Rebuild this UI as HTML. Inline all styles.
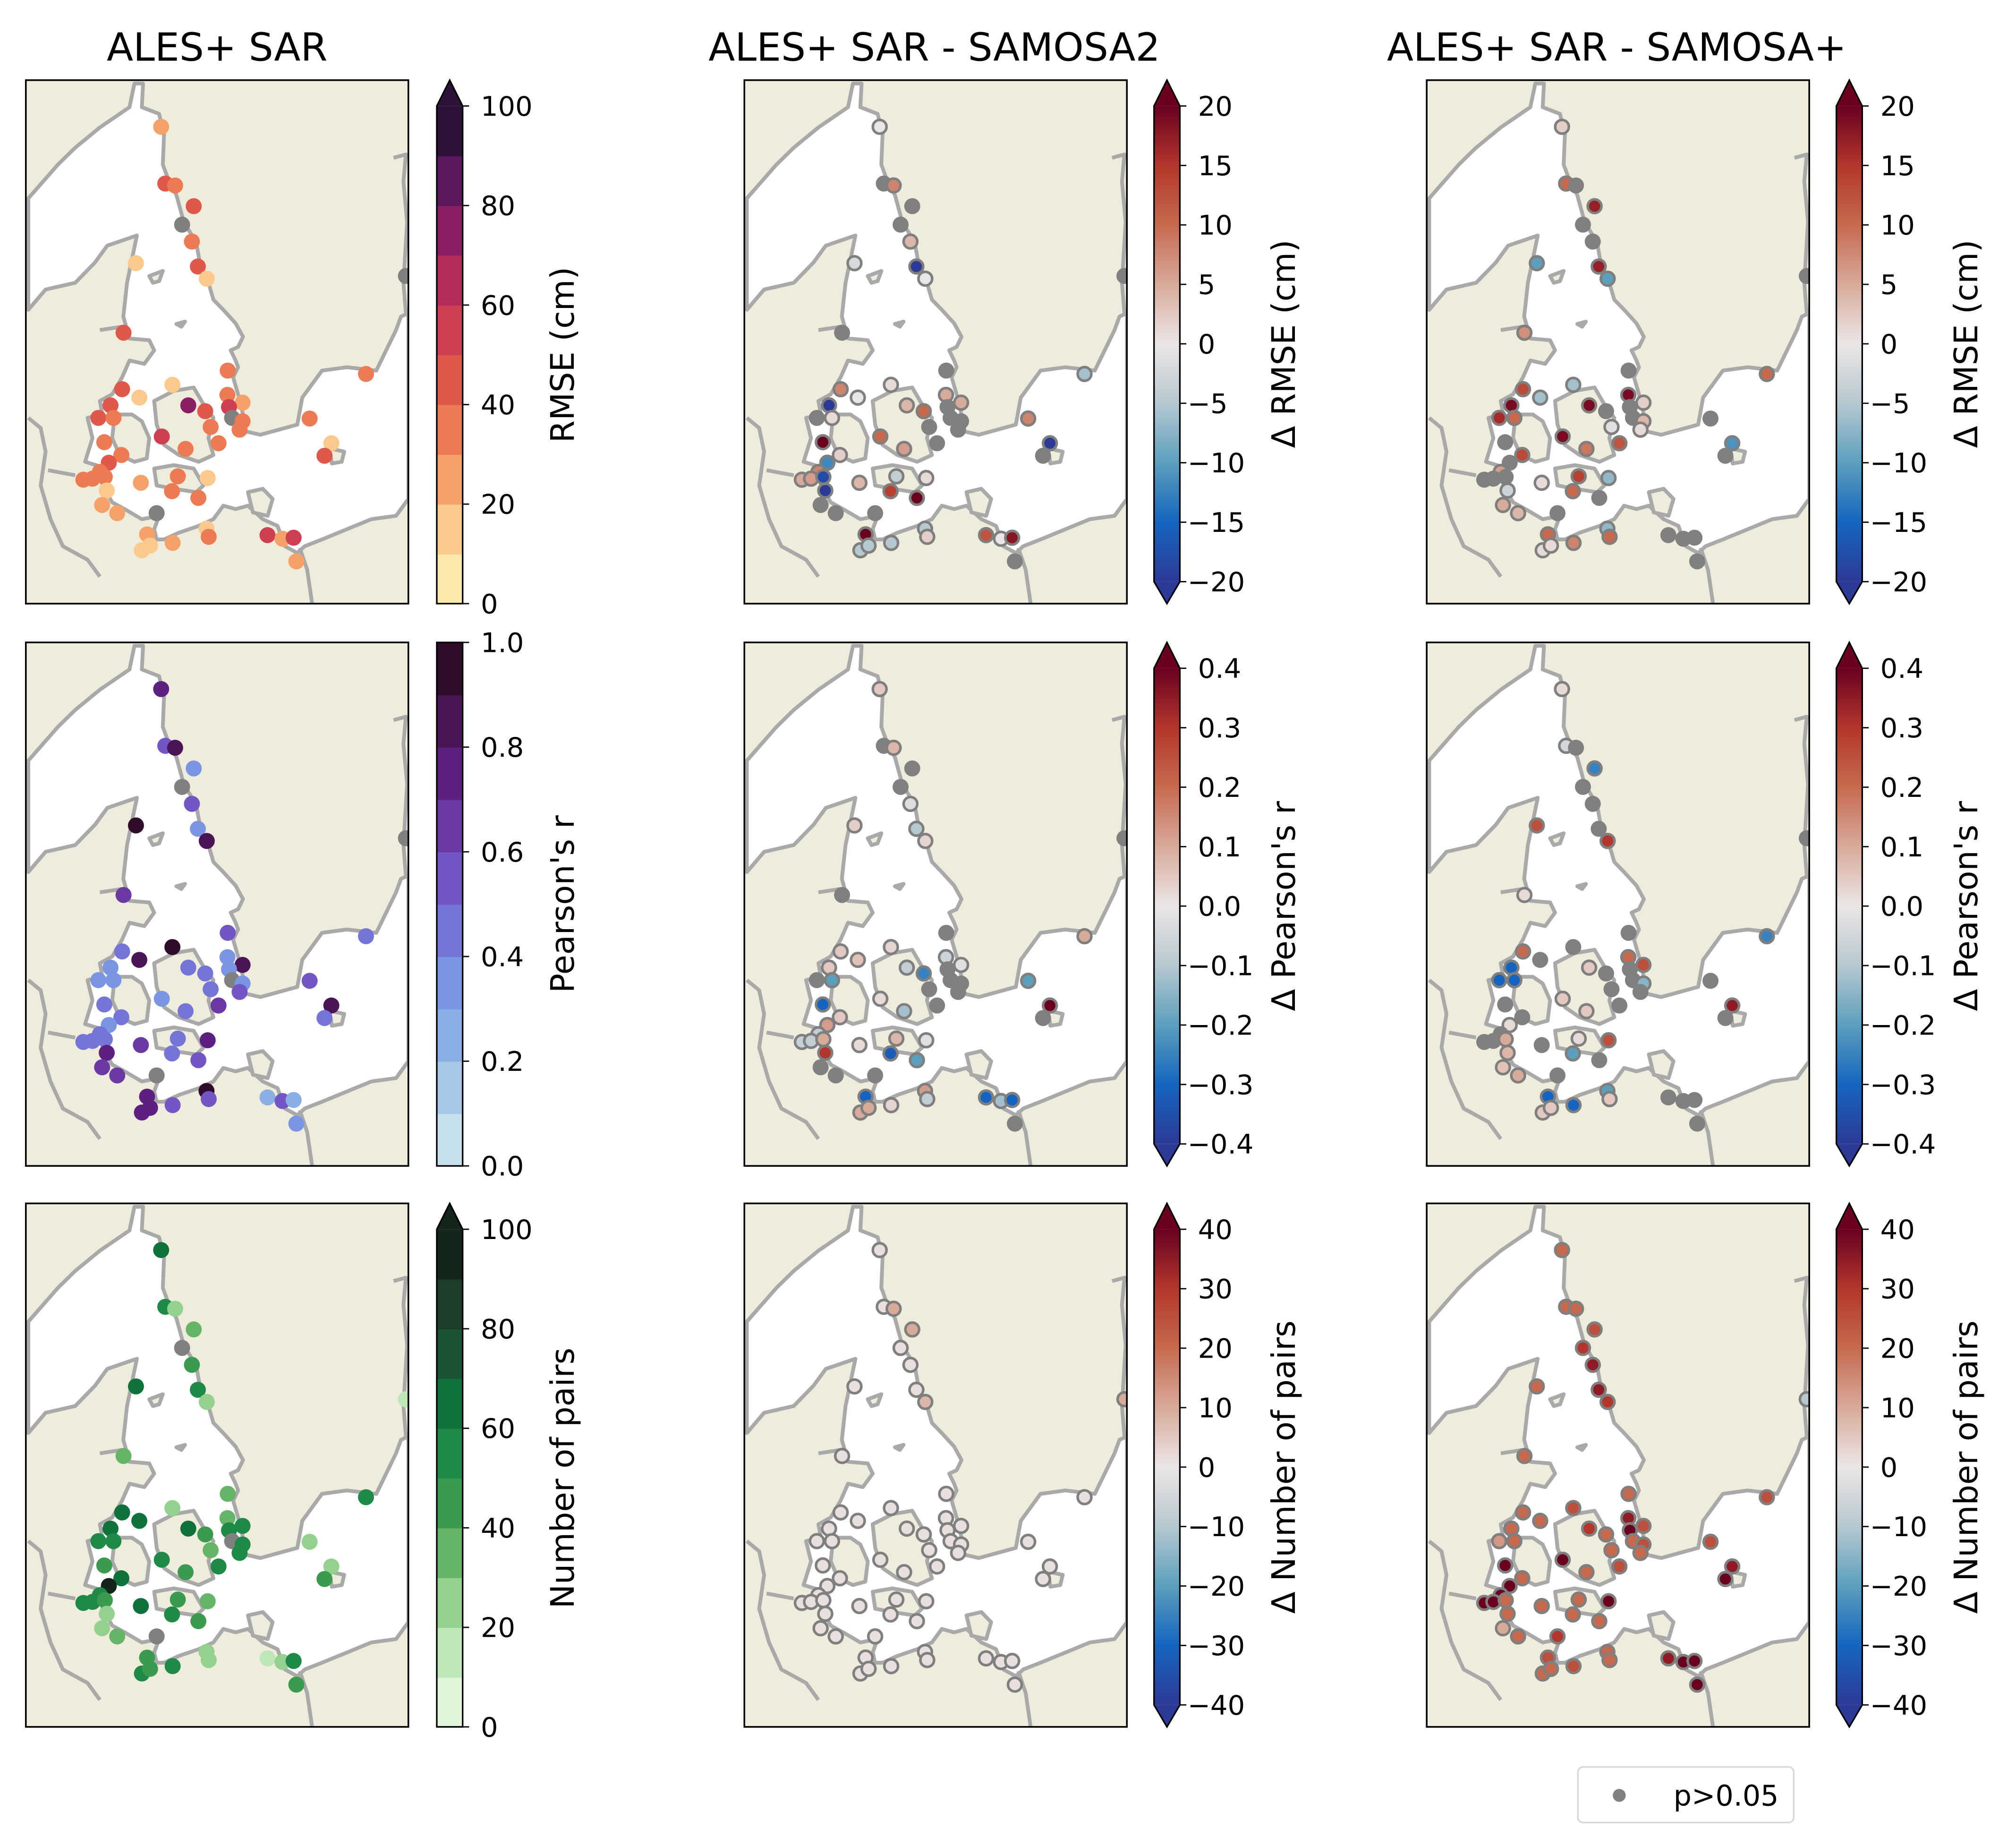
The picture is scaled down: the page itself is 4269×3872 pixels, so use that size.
<!DOCTYPE html>
<html><head><meta charset="utf-8">
<style>
html,body{margin:0;padding:0;background:#fff;}
svg{display:block;}
text{font-family:"DejaVu Sans","Liberation Sans",sans-serif;fill:#000;}
</style></head>
<body>
<svg id="fig" xmlns="http://www.w3.org/2000/svg" width="4269" height="3872" viewBox="0 0 1560 1415" preserveAspectRatio="none">
<rect x="0" y="0" width="1560" height="1415" fill="#fff"/>
<text x="168" y="47" font-size="30" text-anchor="middle">ALES+ SAR</text>
<text x="723" y="47" font-size="30" text-anchor="middle">ALES+ SAR - SAMOSA2</text>
<text x="1251" y="47" font-size="30" text-anchor="middle">ALES+ SAR - SAMOSA+</text>
<g id="panels"></g>
<g>
<rect x="1221" y="1367" width="167" height="43" rx="4" fill="#fff" stroke="#d9d9d9" stroke-width="1.3"/>
<circle cx="1253" cy="1389" r="5" fill="#808080"/>
<text x="1295" y="1397" font-size="22">p&gt;0.05</text>
</g>
</svg>
<script>
// station locations (map fraction units 0..1550)
const stationX=[548,565,605,680,633,673,697,733,446,396,818,1378,1540,594,390,460,817,878,658,823,727,343,294,355,836,878,749,866,1150,551,318,781,647,1238,1210,387,336,300,233,270,320,616,737,466,328,592,699,309,370,530,491,732,741,979,1040,1085,595,470,503,1096];
const stationY=[138,306,312,373,428,478,552,588,542,748,860,870,580,902,915,940,932,955,963,968,980,963,1000,1000,1000,1010,1027,1035,1002,1055,1072,1075,1092,1075,1112,1110,1133,1160,1183,1180,1175,1173,1178,1192,1215,1217,1237,1258,1282,1282,1345,1328,1352,1347,1358,1355,1370,1392,1378,1425];
const N=null;
const rmse=[25,45,35,45,N,35,45,15,15,45,35,35,N,15,45,15,35,25,75,55,45,45,45,35,N,35,35,35,35,55,35,35,35,15,45,35,45,35,35,35,35,35,15,25,15,35,35,25,25,N,25,15,35,55,25,55,25,15,15,25];
const pearson=[0.75,0.55,0.85,0.35,N,0.55,0.35,0.85,0.95,0.65,0.55,0.45,N,0.95,0.45,0.85,0.35,0.85,0.45,0.35,0.45,0.35,0.35,0.35,N,0.35,0.45,0.55,0.55,0.35,0.45,0.65,0.45,0.85,0.45,0.45,0.35,0.45,0.45,0.45,0.45,0.45,0.75,0.65,0.75,0.45,0.55,0.65,0.65,N,0.75,0.95,0.55,0.25,0.55,0.25,0.55,0.75,0.75,0.35];
const pairs=[65,55,25,35,N,45,55,25,65,35,35,55,15,25,65,65,35,55,65,55,45,65,55,55,N,55,35,55,25,55,45,55,45,25,45,65,95,55,55,55,45,45,35,65,25,55,45,25,35,N,45,25,25,15,25,55,55,55,45,45];
const dRmse2=[0,N,8,N,N,4,-20,0,-2,N,N,-6,N,1,8,0,5,5,4,N,10,-20,N,1,N,N,N,N,8,10,20,N,6,-20,N,2,-12,8,5,6,-18,-4,1,4,-20,14,20,N,N,N,20,-5,2,12,0,18,-5,-5,-5,N];
const dRmseP=[2,10,N,17,N,N,17,-10,-10,7,N,10,N,-6,13,-6,19,2,19,N,N,19,16,10,N,4,-1,1,N,19,N,12,9,-11,N,13,N,6,N,N,N,14,-7,1,-3,10,N,5,4,N,10,-7,10,N,N,N,8,1,1,N];
const dR2=[0.05,N,0.08,N,N,-0.03,-0.1,0.03,0.04,N,N,0.1,N,0.03,0.05,0.06,-0.06,-0.02,-0.08,N,-0.25,0.05,N,-0.2,N,N,N,N,-0.2,0.02,-0.3,N,-0.12,0.4,N,0.05,0.12,-0.08,-0.07,-0.08,0.1,0.08,-0.02,0.02,0.3,-0.32,-0.2,N,N,N,-0.3,0.12,-0.08,-0.3,-0.12,-0.3,0.03,0.1,0.1,N];
const dRP=[0.02,-0.05,N,-0.25,N,N,N,0.3,0.25,0.02,N,-0.25,N,N,0.2,N,0.2,0.25,0.05,N,N,-0.3,-0.3,-0.3,N,-0.15,N,N,N,0.05,N,N,0.05,0.35,N,N,0.02,N,N,N,0.1,0.02,0.25,N,0.08,-0.2,N,0.06,0.1,N,-0.3,-0.2,0.05,N,N,N,-0.3,0.05,0.05,N];
const dN2=[1,1,10,10,1,1,1,8,1,1,1,1,10,1,1,1,1,1,1,1,1,1,1,1,1,1,1,1,1,1,1,1,1,1,1,1,1,1,1,1,1,1,1,1,1,1,1,1,1,1,1,1,1,1,1,1,1,1,1,1];
const dNP=[20,20,20,25,30,35,35,30,20,20,20,25,-10,25,20,20,35,25,30,40,20,20,13,20,20,25,20,20,25,40,40,25,20,35,40,20,40,40,40,40,20,20,40,20,20,20,20,10,20,30,25,20,20,35,40,40,25,20,20,40];
// colorbar ticks
const ticksAbs=[0,20,40,60,80,100];
const ticksR=[0,0.2,0.4,0.6,0.8,1.0];
const ticksD1=[-20,-15,-10,-5,0,5,10,15,20];
const ticksD2=[-0.4,-0.3,-0.2,-0.1,0,0.1,0.2,0.3,0.4];
const ticksD3=[-40,-30,-20,-10,0,10,20,30,40];

const magma=['#fde9ab','#fbc98c','#f5a26a','#ec7a52','#e0574b','#cf3f52','#b22c5c','#8a2063','#5c185c','#2c1236'];
const purp=['#c6e1ec','#a4c8e6','#8aafe4','#7a96e2','#7575d8','#7355c4','#6a39a3','#5e2080','#4a1456','#2e0c2a'];
const greens=['#dff5da','#bde8b6','#93d28e','#66b567','#3a9a4e','#1f8a47','#0f723c','#1a5434','#1e3e2a','#14251a'];
const div=[[0,'#2c3a96'],[0.125,'#1565c0'],[0.25,'#5b9fbd'],[0.375,'#b6c8d0'],[0.5,'#ebe6e6'],[0.625,'#d8aa9a'],[0.75,'#c66a4f'],[0.875,'#b2362b'],[1,'#6a0020']];
function hex(h){return [1,3,5].map(i=>parseInt(h.substr(i,2),16));}
function divColor(t){t=Math.max(0,Math.min(1,t));for(let i=1;i<div.length;i++){if(t<=div[i][0]){const a=div[i-1],b=div[i];const f=(t-a[0])/(b[0]-a[0]);const ca=hex(a[1]),cb=hex(b[1]);return 'rgb('+ca.map((v,k)=>Math.round(v+(cb[k]-v)*f)).join(',')+')';}}return div[div.length-1][1];}
function discColor(pal,v,max){let i=Math.floor(v/max*10);i=Math.max(0,Math.min(9,i));return pal[i];}

const colX=[20,576,1104], rowY=[62,497,931], PW=296, PH=405;
const cbX=[338,893,1421];
const NS='http://www.w3.org/2000/svg';
const root=document.getElementById('panels');
function el(tag,attrs,parent){const e=document.createElementNS(NS,tag);for(const k in attrs)e.setAttribute(k,attrs[k]);(parent||root).appendChild(e);return e;}

const seaPath="M440,10 L475,10 L470,80 L540,100 L560,160 L555,250 L580,300 L610,340 L640,420 L690,480 L710,560 L740,600 L760,650 L800,680 L850,720 L880,760 L860,790 L830,800 L850,830 L860,850 L840,880 L860,930 L880,990 L890,1040 L950,1050 L1050,1030 L1100,1020 L1120,940 L1180,880 L1200,860 L1300,850 L1420,860 L1460,800 L1500,740 L1520,700 L1550,690 L1550,1240 L1500,1290 L1400,1300 L1300,1330 L1200,1360 L1130,1380 L1100,1400 L1050,1380 L1020,1320 L960,1300 L900,1260 L850,1270 L800,1260 L760,1300 L700,1320 L620,1340 L560,1360 L530,1360 L520,1330 L540,1290 L470,1300 L400,1270 L350,1250 L310,1200 L330,1150 L240,1130 L270,1060 L250,1000 L310,990 L300,950 L350,930 L390,880 L420,830 L480,840 L520,800 L500,770 L420,765 L395,700 L410,600 L450,460 L330,490 L280,540 L200,600 L80,620 L10,680 L10,350 L130,250 L200,200 L300,140 L420,80 Z";
const islands=["M360,990 L430,990 L470,1010 L500,1060 L490,1120 L440,1130 L380,1110 L350,1060 Z",
"M520,950 L600,920 L680,910 L720,960 L760,1000 L740,1060 L760,1110 L700,1130 L620,1110 L560,1080 L530,1020 Z",
"M520,1150 L600,1140 L680,1150 L720,1200 L690,1220 L600,1210 L530,1200 Z",
"M1230,1090 L1290,1100 L1280,1130 L1240,1135 Z",
"M900,1220 L960,1210 L1000,1240 L980,1290 L920,1280 Z",
"M500,580 L555,565 L540,595 L515,600 Z","M610,722 L645,715 L630,730 Z"];
const lines=["M1490,230 L1540,220 L1530,300 L1545,420 L1530,600 L1540,690","M1110,1385 L1140,1450 L1160,1550","M10,1000 L60,1030 L80,1100 L60,1200 L100,1300 L150,1380 L250,1420 L300,1470","M300,740 L390,730","M200,1170 L90,1155"];

const panels=[
 {c:0,r:0,vals:rmse,type:'abs',pal:magma,max:100,ticks:ticksAbs,label:'RMSE (cm)',ext:'max',name:'rmse-ales'},
 {c:0,r:1,vals:pearson,type:'abs',pal:purp,max:1,ticks:ticksR,label:"Pearson's r",ext:'none',name:'pearson-ales'},
 {c:0,r:2,vals:pairs,type:'abs',pal:greens,max:100,ticks:ticksAbs,label:'Number of pairs',ext:'max',name:'pairs-ales'},
 {c:1,r:0,vals:dRmse2,type:'div',lim:20,ticks:ticksD1,label:'Δ RMSE (cm)',name:'drmse-samosa2'},
 {c:1,r:1,vals:dR2,type:'div',lim:0.4,ticks:ticksD2,label:"Δ Pearson's r",name:'dpearson-samosa2'},
 {c:1,r:2,vals:dN2,type:'div',lim:40,ticks:ticksD3,label:'Δ Number of pairs',name:'dpairs-samosa2'},
 {c:2,r:0,vals:dRmseP,type:'div',lim:20,ticks:ticksD1,label:'Δ RMSE (cm)',name:'drmse-samosaplus'},
 {c:2,r:1,vals:dRP,type:'div',lim:0.4,ticks:ticksD2,label:"Δ Pearson's r",name:'dpearson-samosaplus'},
 {c:2,r:2,vals:dNP,type:'div',lim:40,ticks:ticksD3,label:'Δ Number of pairs',name:'dpairs-samosaplus'}
];
function fmt(v,ticks){const dec=ticks.some(t=>Math.abs(t%1)>1e-9)?1:0;let s=Math.abs(v).toFixed(dec);return (v<-1e-9?'\u2212':'')+s;}

panels.forEach((p,pi)=>{
 const x0=colX[p.c], y0=rowY[p.r];
 const g=el('g',{});
 
 
 const cp=el('clipPath',{id:'clip'+pi},g);
 el('rect',{x:x0,y:y0,width:PW,height:PH},cp);
 const mg=el('g',{'clip-path':'url(#clip'+pi+')'},g);
 el('rect',{x:x0,y:y0,width:PW,height:PH,fill:'#efecdb'},mg);
 const lg=el('g',{transform:'translate('+x0+','+y0+') scale('+(PW/1550)+','+(PH/1550)+')'},mg);
 const sea=el('path',{d:seaPath,fill:'#fff',stroke:'#a9a9a9','stroke-width':8,'vector-effect':'non-scaling-stroke','stroke-linejoin':'round'},lg);
 
 
 islands.forEach(d=>{el('path',{d:d,fill:'#efecdb',stroke:'#a9a9a9','stroke-width':8,'vector-effect':'non-scaling-stroke','stroke-linejoin':'round'},lg);});
 lines.forEach(d=>{el('path',{d:d,fill:'none',stroke:'#a9a9a9','stroke-width':8,'vector-effect':'non-scaling-stroke','stroke-linejoin':'round'},lg);});
 // stations
 p.vals.forEach((v,i)=>{
  const cx=x0+stationX[i]/1550*PW, cy=y0+stationY[i]/1550*PH;
  let fill, stroke='none', sw=0, r=6.2;
  if(v===null){fill='#808080';}
  else if(p.type==='abs'){fill=discColor(p.pal,v,p.max);}
  else {fill=divColor((v+p.lim)/(2*p.lim));stroke='#7f7f7f';sw=2;r=5.3;}
  const c=el('circle',{cx:cx.toFixed(1),cy:cy.toFixed(1),r:r,fill:fill,stroke:stroke,'stroke-width':sw},mg);
  
  
 });
 el('rect',{x:x0,y:y0,width:PW,height:PH,fill:'none',stroke:'#000','stroke-width':1.3},g);

 // colorbar
 const cx0=cbX[p.c], cw=20;
 const cb=el('g',{});
 
 
 let top=y0, bot=y0+PH, tri=20, outline;
 const mid=cx0+cw/2;
 if(p.type==='abs'){
  const barTop = p.ext==='max'? top+tri : top;
  const hh=(bot-barTop)/10;
  for(let k=0;k<10;k++){el('rect',{x:cx0,y:(bot-(k+1)*hh).toFixed(2),width:cw,height:(hh+0.4).toFixed(2),fill:p.pal[k]},cb);}
  if(p.ext==='max'){el('polygon',{points:cx0+','+barTop+' '+mid+','+top+' '+(cx0+cw)+','+barTop,fill:p.pal[9]},cb);
   outline=cx0+','+bot+' '+cx0+','+barTop+' '+mid+','+top+' '+(cx0+cw)+','+barTop+' '+(cx0+cw)+','+bot;}
  else outline=cx0+','+bot+' '+cx0+','+barTop+' '+(cx0+cw)+','+barTop+' '+(cx0+cw)+','+bot;
  el('polygon',{points:outline,fill:'none',stroke:'#000','stroke-width':1.2},cb);
  p.ticks.forEach(t=>{const ty=bot-(t/p.max)*(bot-barTop);
   el('line',{x1:cx0+cw,x2:cx0+cw+5,y1:ty,y2:ty,stroke:'#000','stroke-width':1},cb);
   const tx=el('text',{x:cx0+cw+14,y:ty+7.5,'font-size':21},cb);tx.textContent=fmt(t,p.ticks);});
  const lt=el('text',{x:444,y:(barTop+bot)/2,'font-size':25,'text-anchor':'middle',transform:'rotate(-90 444 '+(barTop+bot)/2+')'},cb);
  
  
  lt.textContent=p.label;
 } else {
  const bt=top+tri, bb=bot-17;
  const gid='grad'+pi;
  const lgd=el('linearGradient',{id:gid,x1:0,y1:1,x2:0,y2:0},cb);
  div.forEach(s=>el('stop',{offset:s[0],'stop-color':s[1]},lgd));
  el('rect',{x:cx0,y:bt,width:cw,height:bb-bt,fill:'url(#'+gid+')'},cb);
  el('polygon',{points:cx0+','+bt+' '+mid+','+top+' '+(cx0+cw)+','+bt,fill:div[div.length-1][1]},cb);
  el('polygon',{points:cx0+','+bb+' '+mid+','+bot+' '+(cx0+cw)+','+bb,fill:div[0][1]},cb);
  outline=cx0+','+bb+' '+cx0+','+bt+' '+mid+','+top+' '+(cx0+cw)+','+bt+' '+(cx0+cw)+','+bb+' '+mid+','+bot;
  el('polygon',{points:outline,fill:'none',stroke:'#000','stroke-width':1.2},cb);
  p.ticks.forEach(t=>{const ty=bb-((t+p.lim)/(2*p.lim))*(bb-bt);
   el('line',{x1:cx0+cw,x2:cx0+cw+5,y1:ty,y2:ty,stroke:'#000','stroke-width':1},cb);
   const tx=el('text',{x:cx0+cw+(t<-1e-9?6:14),y:ty+7.5,'font-size':21},cb);tx.textContent=fmt(t,p.ticks);});
  const lx=p.c===1?1002:1530, ly=(bt+bb)/2;
  const lt=el('text',{x:lx,y:ly,'font-size':25,'text-anchor':'middle',transform:'rotate(-90 '+lx+' '+ly+')'},cb);
  
  
  lt.textContent=p.label;
 }
});
</script>
</body></html>
